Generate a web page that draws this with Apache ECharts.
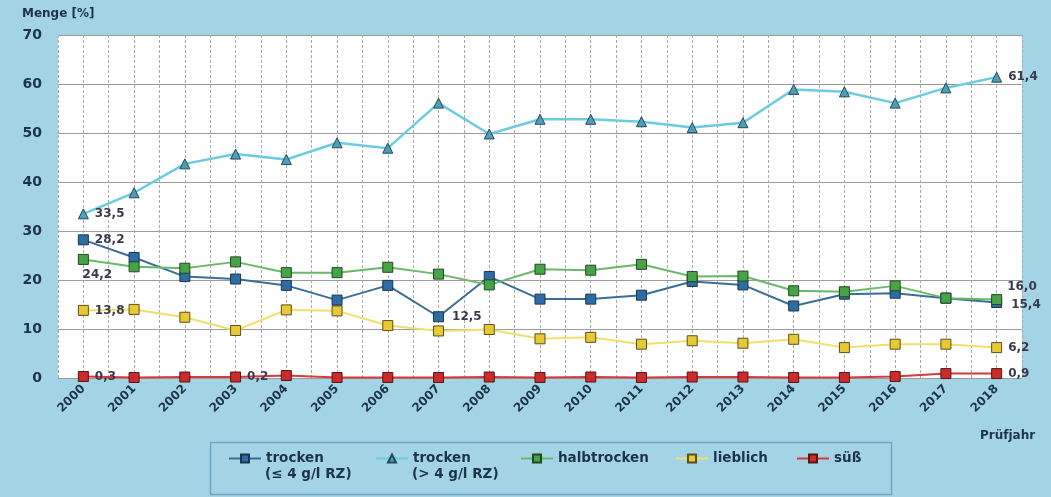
<!DOCTYPE html>
<html>
<head>
<meta charset="utf-8">
<script src="https://cdn.jsdelivr.net/npm/echarts@6/dist/echarts.min.js"></script>
<style>
  html, body { margin: 0; padding: 0; background: #a3d4e5; }
  #chart { width: 1051px; height: 497px; }
</style>
</head>
<body>
<div id="chart"></div>
<script>
// Prüfjahre
const years = ['2000','2001','2002','2003','2004','2005','2006','2007','2008','2009',
               '2010','2011','2012','2013','2014','2015','2016','2017','2018'];

// Anteile in Prozent je Geschmacksrichtung
const trockenBis4 = [28.2, 24.6, 20.7, 20.2, 18.9, 15.9, 18.9, 12.5, 20.7, 16.1,
                     16.1, 16.9, 19.7, 19.0, 14.7, 17.1, 17.3, 16.3, 15.4];
const trockenUeber4 = [33.5, 37.8, 43.7, 45.7, 44.6, 48.0, 46.9, 56.1, 49.8, 52.8,
                       52.8, 52.3, 51.1, 52.1, 58.9, 58.4, 56.1, 59.2, 61.4];
const halbtrocken = [24.2, 22.7, 22.4, 23.7, 21.5, 21.5, 22.6, 21.2, 19.0, 22.2,
                     22.0, 23.2, 20.7, 20.8, 17.8, 17.6, 18.8, 16.3, 16.0];
const lieblich = [13.8, 14.0, 12.4, 9.7, 13.9, 13.7, 10.7, 9.6, 9.9, 8.0,
                  8.3, 6.9, 7.6, 7.1, 7.9, 6.2, 6.9, 6.9, 6.2];
const suess = [0.3, 0.1, 0.2, 0.2, 0.5, 0.1, 0.1, 0.1, 0.2, 0.1,
               0.2, 0.1, 0.2, 0.2, 0.1, 0.1, 0.3, 0.9, 0.9];

const yTicks = [0, 10, 20, 30, 40, 50, 60, 70];

// legend: first line is the series name, second line the sugar range
const names = ['trocken (≤ 4 g/l RZ)', 'trocken (> 4 g/l RZ)', 'halbtrocken', 'lieblich', 'süß'];
const legendLine1 = ['trocken', 'trocken', 'halbtrocken', 'lieblich', 'süß'];
const legendLine2 = ['(≤ 4 g/l RZ)', '(> 4 g/l RZ)', '', '', ''];

const FONT = '"DejaVu Sans", sans-serif';
const TEXT = '#1d3347';
const LABEL = '#3b3a4c';

const fmt = v => v.toFixed(1).replace('.', ',');

// which points carry a value label, and where it sits
function withLabels(values, placement) {
  return values.map((v, i) => {
    const p = placement[i];
    if (!p) return v;
    return {
      value: v,
      label: Object.assign({
        show: true, position: 'right', distance: 6,
        formatter: d => fmt(d.value),
        color: LABEL, fontFamily: FONT, fontWeight: 'bold', fontSize: 12
      }, p)
    };
  });
}

function lineSeries(name, values, lineColor, fill, border, symbol, placement, extra) {
  return Object.assign({
    name, type: 'line',
    data: withLabels(values, placement),
    symbol, symbolSize: 10,
    lineStyle: { color: lineColor, width: 2 },
    itemStyle: { color: fill, borderColor: border, borderWidth: 1 },
    emphasis: { disabled: true },
    animation: false
  }, extra || {});
}

const series = [
  lineSeries(names[4], suess, '#d63a3a', '#cc2b2b', '#5a1515', 'rect',
    { 0: {}, 3: {}, 18: {} }, { z: 2 }),
  lineSeries(names[3], lieblich, '#f0e06a', '#e6c935', '#5d4f1a', 'rect',
    { 0: {}, 18: {} }, { z: 3 }),
  lineSeries(names[1], trockenUeber4, '#6ccbe0', '#4e9fb6', '#23495a', 'triangle',
    { 0: {}, 18: {} }, { z: 4, lineStyle: { color: '#6ccbe0', width: 2.5 } }),
  lineSeries(names[0], trockenBis4, '#3b6e96', '#2e6da4', '#1c3550', 'rect',
    { 0: {}, 7: { distance: 8 }, 18: { distance: 9, offset: [0, 2] } }, { z: 5 }),
  lineSeries(names[2], halbtrocken, '#6ab86a', '#48a348', '#1f4a1f', 'rect',
    { 0: { position: 'bottom', distance: 4, offset: [14, 0] }, 18: { distance: 5, offset: [0, -13] } }, { z: 6 })
];

// legend entries laid out in one framed row below the axis
const legendLeft = [228, 375, 520, 675, 796];
const legends = names.map((n, i) => ({
  data: [n],
  left: legendLeft[i], top: 450,
  padding: 0, itemWidth: 32, itemHeight: 10, itemGap: 0,
  selectedMode: false,
  textStyle: { color: TEXT, fontFamily: FONT, fontWeight: 'bold', fontSize: 13.5, lineHeight: 17 },
  formatter: () => legendLine1[i]
}));

const secondLines = legendLine2.map((t, i) => t ? {
  type: 'text', left: legendLeft[i] + 37, top: 467,
  style: { text: t, fill: TEXT, font: 'bold 13.5px ' + FONT }
} : null).filter(Boolean);

const chart = echarts.init(document.getElementById('chart'), null, { renderer: 'canvas' });
chart.setOption({
  backgroundColor: '#a3d4e5',
  animation: false,
  grid: { left: 58, right: 29, top: 35, bottom: 119, show: true, backgroundColor: '#ffffff', borderWidth: 0 },
  legend: legends,
  xAxis: [
    {
      type: 'category', data: years, boundaryGap: true,
      axisLine: { show: false }, axisTick: { show: false }, splitLine: { show: false },
      axisLabel: { rotate: 45, margin: 9, color: TEXT, fontFamily: FONT, fontWeight: 'bold', fontSize: 12, interval: 0 }
    },
    {
      // half-year grid columns
      type: 'value', min: -0.5, max: 18.5, interval: 0.5, position: 'bottom',
      axisLine: { show: false }, axisTick: { show: false }, axisLabel: { show: false },
      splitLine: { show: true, lineStyle: { color: '#a9a9a9', width: 1, type: [3, 2] } }
    }
  ],
  yAxis: {
    type: 'value', min: yTicks[0], max: yTicks[yTicks.length - 1], interval: 10,
    axisLine: { show: false }, axisTick: { show: false },
    axisLabel: { margin: 16, color: TEXT, fontFamily: FONT, fontWeight: 'bold', fontSize: 14 },
    splitLine: { lineStyle: { color: '#9c9c9c', width: 1.2 } }
  },
  graphic: [
    { type: 'text', left: 22, top: 8, style: { text: 'Menge [%]', fill: TEXT, font: 'bold 12px ' + FONT } },
    { type: 'text', left: 980, top: 430, style: { text: 'Prüfjahr', fill: TEXT, font: 'bold 12px ' + FONT } },
    { type: 'rect', left: 208, top: 440, shape: { width: 681, height: 52 },
      style: { fill: 'none', stroke: '#6da6c2', lineWidth: 1.5 }, silent: true }
  ].concat(secondLines),
  series
});
</script>
</body>
</html>
